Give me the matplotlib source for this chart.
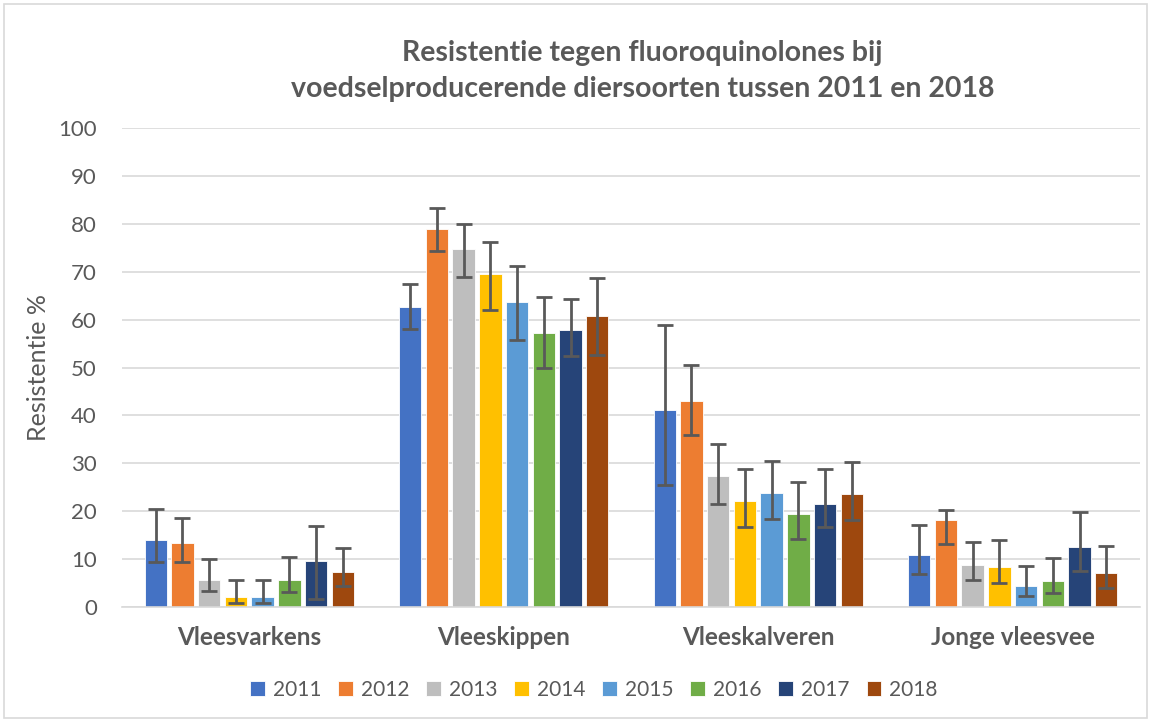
import numpy as np
import matplotlib.pyplot as plt
from matplotlib.patches import Rectangle

plt.rcParams['font.family'] = ['Lato', 'DejaVu Sans']

categories = ["Vleesvarkens", "Vleeskippen", "Vleeskalveren", "Jonge vleesvee"]
years = ["2011", "2012", "2013", "2014", "2015", "2016", "2017", "2018"]

# resistance % per year, one value per category
values = {
    "2011": [14.0, 62.7, 41.1, 10.9],
    "2012": [13.3, 79.0, 43.0, 18.2],
    "2013": [5.7, 74.7, 27.3, 8.7],
    "2014": [2.0, 69.5, 22.2, 8.4],
    "2015": [2.0, 63.7, 23.9, 4.3],
    "2016": [5.7, 57.3, 19.4, 5.5],
    "2017": [9.5, 57.8, 21.6, 12.5],
    "2018": [7.4, 60.8, 23.6, 7.2],
}
# confidence interval bounds
lower = {
    "2011": [9.4, 58.1, 25.4, 6.9],
    "2012": [9.4, 74.3, 36.0, 13.2],
    "2013": [3.3, 68.8, 21.6, 5.6],
    "2014": [0.8, 61.9, 16.8, 5.1],
    "2015": [0.8, 55.8, 18.4, 2.2],
    "2016": [3.1, 49.8, 14.2, 3.0],
    "2017": [1.7, 52.5, 16.7, 7.6],
    "2018": [4.45, 52.7, 18.1, 4.0],
}
upper = {
    "2011": [20.5, 67.4, 58.9, 17.1],
    "2012": [18.6, 83.2, 50.5, 20.3],
    "2013": [9.95, 80.0, 34.0, 13.6],
    "2014": [5.6, 76.3, 28.9, 13.9],
    "2015": [5.6, 71.1, 30.5, 8.6],
    "2016": [10.4, 64.8, 26.2, 10.3],
    "2017": [17.0, 64.4, 28.9, 19.8],
    "2018": [12.4, 68.6, 30.3, 12.7],
}

colors = ["#4472C4", "#ED7D31", "#BEBEBE", "#FFC000",
          "#5B9BD5", "#70AD47", "#264478", "#9E480E"]

text_col = "#595959"

fig = plt.figure(figsize=(11.51, 7.22), dpi=100)
ax = fig.add_axes([122 / 1151, 1 - 607 / 722, 1018 / 1151, 479 / 722])

# light chart border like an Excel chart area
fig.patches.append(Rectangle((4 / 1151, 4 / 722), 1143 / 1151, 714 / 722,
                             transform=fig.transFigure, fill=False,
                             edgecolor="#D9D9D9", linewidth=1.2))

x = np.arange(len(categories))
step = 0.105
width = 0.088
for i, yr in enumerate(years):
    pos = x + (i - 3.5) * step
    v = np.array(values[yr])
    err = [v - np.array(lower[yr]), np.array(upper[yr]) - v]
    ax.bar(pos, v, width, color=colors[i], label=yr, zorder=2,
           edgecolor="white", linewidth=0.6)
    ax.errorbar(pos, v, yerr=err, fmt="none", ecolor="#595959",
                elinewidth=2, capsize=6, capthick=2, zorder=3)

ax.set_xlim(-0.5, 3.5)
ax.set_ylim(0, 100)
ax.set_yticks(range(0, 101, 10))
ax.grid(axis="y", color="#D9D9D9", linewidth=1.2, zorder=0)
for s in ["top", "right", "left"]:
    ax.spines[s].set_visible(False)
ax.spines["bottom"].set_color("#D9D9D9")
ax.spines["bottom"].set_linewidth(1.2)
ax.tick_params(axis="both", length=0, colors=text_col, labelsize=16)
ax.tick_params(axis="y", pad=18)
ax.tick_params(axis="x", pad=14)
ax.set_xticks(x)
ax.set_xticklabels(categories, fontweight="bold", fontsize=17.5, color=text_col)
ax.set_ylabel("Resistentie %", fontsize=18, color=text_col, labelpad=6)

fig.text(0.558, 1 - 71 / 722,
         "Resistentie tegen fluoroquinolones bij\nvoedselproducerende diersoorten tussen 2011 en 2018",
         ha="center", va="center", fontsize=20.5, fontweight="bold",
         color=text_col, linespacing=1.5)

ax.legend(loc="center", bbox_to_anchor=(0.516, 1 - 690 / 722), bbox_transform=fig.transFigure,
          ncol=8, frameon=False, fontsize=15, handlelength=0.7, handleheight=0.7,
          handletextpad=0.4, columnspacing=0.8, labelcolor=text_col)

fig.savefig("out.png", dpi=100)
